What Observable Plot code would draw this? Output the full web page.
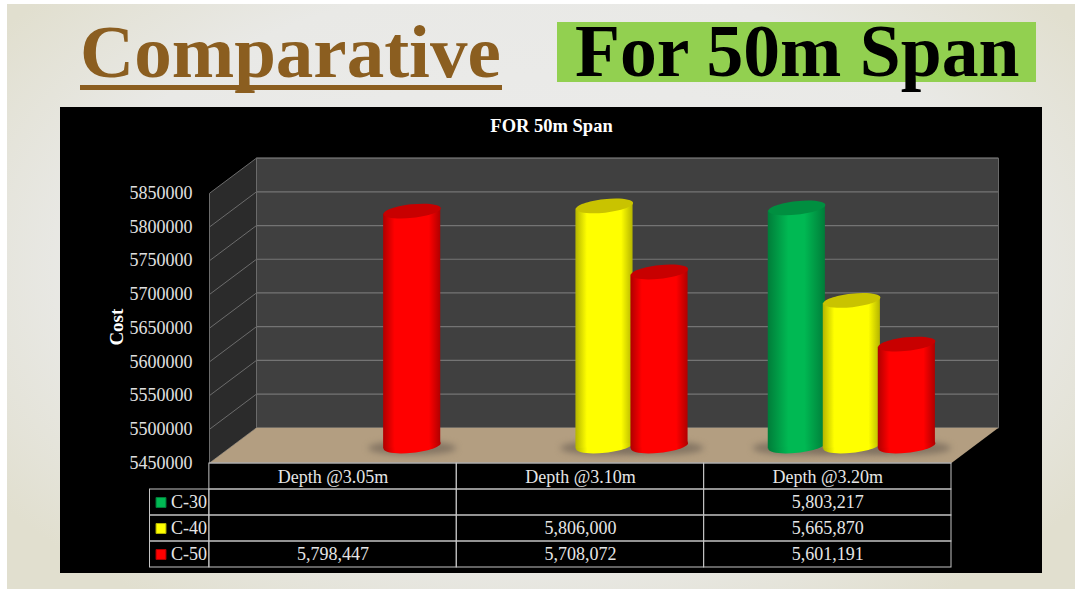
<!DOCTYPE html>
<html>
<head>
<meta charset="utf-8">
<script src="https://cdn.jsdelivr.net/npm/d3@7"></script>
<script src="https://cdn.jsdelivr.net/npm/@observablehq/plot@0.6"></script>
<style>
  html, body { margin: 0; padding: 0; background: #fff; width: 1075px; height: 589px; overflow: hidden; }
  body { position: relative; font-family: "Liberation Serif", serif; }
  #slide { position: absolute; left: 7px; top: 4px; right: 0; bottom: 0;
           background: radial-gradient(ellipse 62% 70% at 50% 45%, #ececec 0%, #e9e9e6 70%, #e1dfcf 100%); }
  #head1 { position: absolute; left: 80px; top: 14px; font-size: 75px; line-height: 75px; font-weight: bold;
           color: #8b5e20; margin: 0; white-space: nowrap; }
  #rule1 { position: absolute; left: 80px; top: 85px; width: 422px; height: 5px; background: #8b5e20; }
  #box2 { position: absolute; left: 557px; top: 22px; width: 479px; height: 60px; background: #92d050; }
  #head2 { position: absolute; left: 575px; top: 14px; font-size: 73.6px; line-height: 75px; font-weight: bold;
           color: #000; margin: 0; white-space: nowrap; }
  #panel { position: absolute; left: 60px; top: 107px; width: 982px; height: 466px; background: #000; }
  #panel svg { position: absolute; left: 0; top: 0; }
</style>
</head>
<body>
<div id="slide"></div>
<div id="box2"></div>
<h1 id="head1">Comparative</h1>
<div id="rule1"></div>
<h2 id="head2">For 50m Span</h2>
<div id="panel"></div>
<script>
const chartTitle = "FOR 50m Span";
const yLabel = "Cost";
const categories = ["Depth @3.05m", "Depth @3.10m", "Depth @3.20m"];
const seriesNames = ["C-30", "C-40", "C-50"];
const c30 = [null, null, 5803217];
const c40 = [null, 5806000, 5665870];
const c50 = [5798447, 5708072, 5601191];
const seriesValues = [c30, c40, c50];
const yTicks = [5450000, 5500000, 5550000, 5600000, 5650000, 5700000, 5750000, 5800000, 5850000];
const bodyColors = ["#00b953", "#ffff00", "#ff0000"];
const edgeColors = ["#007d39", "#b5b500", "#b00000"];
const capColors = ["#008f40", "#c9c300", "#c80000"];
const fontFamily = '"Liberation Serif", serif';

const W = 982, H = 466;
const yMin = yTicks[0], yMax = yTicks[yTicks.length - 1];
// box depth expressed in the units of the two scales
const depthX = 0.19, depthY = 52200;
const groupStep = 0.2224, halfBar = 0.1155, tilt = 4600;

function ellipseSymbol(ratio, deg) {
  const th = deg * Math.PI / 180, k = 0.5523;
  return {
    draw(ctx, size) {
      const a = Math.sqrt(size / Math.PI), b = a * ratio;
      const p = (u, v) => [u * a * Math.cos(th) - v * b * Math.sin(th), u * a * Math.sin(th) + v * b * Math.cos(th)];
      ctx.moveTo(...p(1, 0));
      ctx.bezierCurveTo(...p(1, k), ...p(k, 1), ...p(0, 1));
      ctx.bezierCurveTo(...p(-k, 1), ...p(-1, k), ...p(-1, 0));
      ctx.bezierCurveTo(...p(-1, -k), ...p(-k, -1), ...p(0, -1));
      ctx.bezierCurveTo(...p(k, -1), ...p(1, -k), ...p(1, 0));
      ctx.closePath();
    }
  };
}
const capSymbol = ellipseSymbol(0.235, -6.2);
const shadowSymbol = ellipseSymbol(0.16, 0);

const gradients = () => {
  const defs = d3.create("svg:defs");
  seriesNames.forEach((s, i) => {
    const g = defs.append("linearGradient").attr("id", "cyl" + i).attr("x1", 0).attr("x2", 1).attr("y1", 0).attr("y2", 0);
    const mid = i === 0 ? 0.36 : 0.2;
    [[0, edgeColors[i]], [mid, bodyColors[i]], [1 - mid, bodyColors[i]], [1, edgeColors[i]]]
      .forEach(([o, c]) => g.append("stop").attr("offset", o).attr("stop-color", c));
  });
  return defs.node();
};

const cylinders = seriesNames.map((s, si) =>
  categories.flatMap((c, ci) => seriesValues[si][ci] == null ? [] : [{
    id: s + c, value: seriesValues[si][ci], x: ci + 0.5 + (si - 1) * groupStep
  }]));
const offs = { dx: 24, dy: -17 };

const wallBack = [{ x1: depthX, x2: 3 + depthX, y1: yMin + depthY, y2: yMax + depthY }];
const wallSide = [[0, yMin], [depthX, yMin + depthY], [depthX, yMax + depthY], [0, yMax]];
const floor = [[0, yMin], [3, yMin], [3 + depthX, yMin + depthY], [depthX, yMin + depthY]];

const chart = Plot.plot({
  width: W, height: H,
  marginLeft: 149, marginRight: 91, marginTop: 0, marginBottom: 0,
  style: { background: "transparent", color: "#e0e0e0", fontFamily, overflow: "visible" },
  x: { axis: null, type: "linear", domain: [0, 3], range: [149, 891] },
  y: { axis: null, type: "linear", domain: [yMin, yMax], range: [355.5, 85.8] },
  marks: [
    gradients,
    Plot.line(wallSide, { x: d => d[0], y: d => d[1], fill: "#2b2b2b", stroke: "none" }),
    Plot.rect(wallBack, { x1: "x1", x2: "x2", y1: "y1", y2: "y2", fill: "#404040", stroke: "none" }),
    Plot.link(yTicks, { x1: () => 0, x2: () => depthX, y1: d => d, y2: d => d + depthY, stroke: "#6c6c6c", strokeWidth: 1 }),
    Plot.link([yMin], { x1: () => 0, x2: () => 0, y1: () => yMin, y2: () => yMax, stroke: "#6c6c6c" }),
    Plot.link(yTicks, { x1: () => depthX, x2: () => 3 + depthX, y1: d => d + depthY, y2: d => d + depthY, stroke: "#747474", strokeWidth: 1.2 }),
    Plot.link([depthX, 3 + depthX], { x1: d => d, x2: d => d, y1: () => yMin + depthY, y2: () => yMax + depthY, stroke: "#6c6c6c" }),
    Plot.line(floor, { x: d => d[0], y: d => d[1], fill: "#b39e81", stroke: "none" }),
    Plot.link([yMin], { x1: () => 0, x2: () => 3, y1: d => d, y2: d => d, stroke: "#808080", strokeWidth: 1 }),
    ...cylinders.map(data => Plot.dot(data, {
      x: "x", y: () => yMin, r: 44, symbol: shadowSymbol, fill: "#7f7160", fillOpacity: 0.9,
      imageFilter: "blur(3px)", dx: 24, dy: -15
    })),
    ...cylinders.flatMap((data, i) => [
      Plot.dot(data, { x: "x", y: () => yMin, r: 28.7, symbol: capSymbol, fill: `url(#cyl${i})`, ...offs }),
      Plot.area(data.flatMap(d => [
        { id: d.id, x: d.x - halfBar, y1: yMin - tilt, y2: d.value - tilt },
        { id: d.id, x: d.x + halfBar, y1: yMin + tilt, y2: d.value + tilt }
      ]), { x1: "x", y1: "y1", y2: "y2", z: "id", fill: `url(#cyl${i})`, stroke: "none", ...offs }),
      Plot.dot(data, { x: "x", y: "value", r: 28.7, symbol: capSymbol, fill: capColors[i], ...offs })
    ]),
    Plot.axisY(yTicks, {
      anchor: "left", tickSize: 0, tickPadding: 17, tickFormat: "d", label: null,
      fontSize: 18, fontFamily, fill: "#e0e0e0"
    }),
    Plot.text([yLabel], {
      frameAnchor: "left", y: () => 5650000, dx: -93, dy: -1, rotate: -90, textAnchor: "middle",
      fontSize: 19, fontWeight: "bold", fill: "#fff", fontFamily
    }),
    Plot.text([chartTitle], {
      frameAnchor: "top", x: () => 1.5, dx: -29, dy: 19, lineAnchor: "middle",
      fontSize: 18.5, fontWeight: "bold", fill: "#fff", fontFamily
    })
  ]
});

// ---- data table under the chart ----
const labelCol = -0.24;
const cellList = [];
const textList = [];
categories.forEach((c, ci) => {
  cellList.push({ x1: ci, x2: ci + 1, y1: 0, y2: 1 });
  textList.push({ t: c, x: ci + 0.5, y: 0.54 });
});
seriesNames.forEach((s, si) => {
  const r = si + 1;
  cellList.push({ x1: labelCol, x2: 0, y1: r, y2: r + 1 });
  categories.forEach((c, ci) => {
    cellList.push({ x1: ci, x2: ci + 1, y1: r, y2: r + 1 });
    const v = seriesValues[si][ci];
    if (v != null) textList.push({ t: d3.format(",")(v), x: ci + 0.5, y: r + 0.5 });
  });
});
const swatches = seriesNames.map((s, si) => ({ name: s, y: si + 1.5, i: si }));

const table = Plot.plot({
  width: W, height: H,
  marginLeft: 89.5, marginRight: 91, marginTop: 0, marginBottom: 0,
  style: { background: "transparent", color: "#e6e6e6", fontFamily, overflow: "visible" },
  x: { axis: null, type: "linear", domain: [labelCol, 3], range: [89.5, 891] },
  y: { axis: null, type: "linear", domain: [0, 4], range: [356, 460] },
  marks: [
    Plot.rect(cellList, { x1: "x1", x2: "x2", y1: "y1", y2: "y2", fill: "none", stroke: "#c4c4c4", strokeWidth: 1 }),
    Plot.text(textList, { x: "x", y: "y", text: "t", fontSize: 18, fill: "#e6e6e6", fontFamily }),
    Plot.dot(swatches, {
      x: () => labelCol, y: "y", dx: 11, r: 5.6, symbol: "square",
      fill: d => bodyColors[d.i], stroke: d => edgeColors[d.i], strokeWidth: 1
    }),
    Plot.text(swatches, {
      x: () => labelCol, y: "y", text: "name", dx: 21, textAnchor: "start",
      fontSize: 18, fill: "#e6e6e6", fontFamily
    })
  ]
});

const panel = document.getElementById("panel");
panel.appendChild(chart);
panel.appendChild(table);
</script>
</body>
</html>
